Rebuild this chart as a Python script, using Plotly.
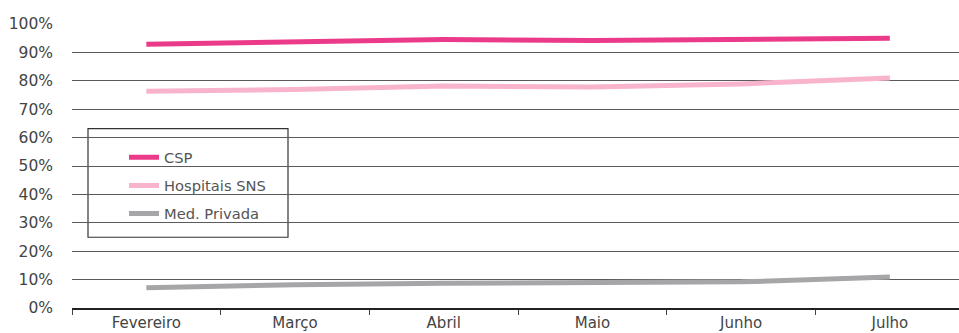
import plotly.graph_objects as go

months = ["Fevereiro", "Março", "Abril", "Maio", "Junho", "Julho"]
csp = [0.929, 0.938, 0.945, 0.942, 0.944, 0.950]
sns = [0.763, 0.769, 0.782, 0.778, 0.789, 0.810]
privada = [0.071, 0.082, 0.087, 0.090, 0.092, 0.109]
y_ticks = [i / 10 for i in range(11)]

series = [
    ("CSP", csp, "#EC3A8A"),
    ("Hospitais SNS", sns, "#F8B4CC"),
    ("Med. Privada", privada, "#A6A6A9"),
]

fig = go.Figure()
for i, (name, vals, col) in enumerate(series):
    fig.add_trace(go.Scatter(
        x=months, y=vals, name=name, mode="lines",
        line=dict(color=col, width=5),
        legendgroup=f"g{i}",
    ))

FONT = "'DejaVu Sans', sans-serif"
fig.update_layout(
    width=959, height=333,
    margin=dict(l=72, r=0, t=23.5, b=24.5),
    paper_bgcolor="white", plot_bgcolor="white",
    font=dict(family=FONT, size=15, color="#444"),
    showlegend=True,
    legend=dict(
        x=(124 - 72) / 887, y=0.587, xanchor="left", yanchor="top",
        bgcolor="rgba(0,0,0,0)", borderwidth=0,
        font=dict(size=14.7, color="#555"),
        tracegroupgap=6, itemwidth=30,
    ),
    xaxis=dict(
        type="category", range=[-0.5, 5.465],
        showgrid=False, showline=True, linecolor="#222", linewidth=2,
        ticks="outside", tickson="boundaries", ticklen=5, tickcolor="#444", tickwidth=1,
        tickfont=dict(size=15, color="#444"),
        ticklabelstandoff=0, automargin=False,
        fixedrange=True,
    ),
    yaxis=dict(
        range=[0, 1], tickvals=y_ticks, tickformat=".0%",
        showgrid=True, gridcolor="#5a5a5a", gridwidth=1,
        zeroline=False, showline=False, ticks="",
        tickfont=dict(size=15.5, color="#444"),
        ticklabelstandoff=18, automargin=False,
    ),
    shapes=[dict(
        type="rect", xref="paper", yref="paper",
        x0=(88 - 72) / 887, x1=(288 - 72) / 887,
        y0=(308.5 - 237.5) / 285, y1=(308.5 - 128.5) / 285,
        line=dict(color="#333", width=1.2), fillcolor="white", layer="below",
    )],
)

fig.write_html("out.html")
